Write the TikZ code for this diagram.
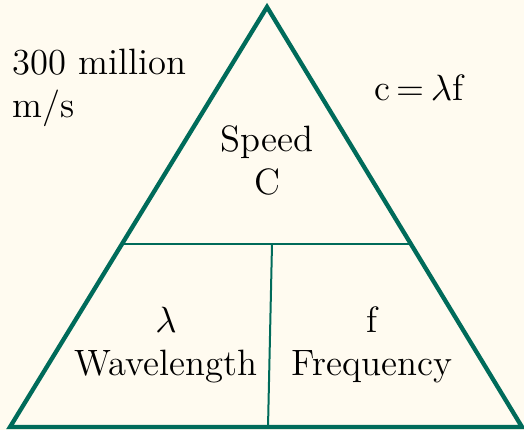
\documentclass[tikz,border=0pt]{standalone}
\usepackage{tikz}
\usetikzlibrary{positioning, calc}
\definecolor{tealline}{RGB}{0,107,90}
\definecolor{cream}{RGB}{255,251,240}
\tikzset{
	outer/.style={draw=tealline, line width=1.3pt, line join=miter},
	inner/.style={draw=tealline, line width=0.6pt},
	label/.style={align=center, inner sep=0pt, font=\fontsize{11}{12.9}\selectfont},
	note/.style={label, align=left}
}

\begin{document}
\begin{tikzpicture}[x=0.3pt,y=-0.3pt]
			% Background
			\fill[cream] (0,0) rectangle (524,430);
			\useasboundingbox (0,0) rectangle (524,430);
			
			% Corners
			\coordinate (apex) at (267,7);
			\coordinate (bl) at (10,427);
			\coordinate (br) at (522,427);
			\coordinate (ml) at (123,244);
			\coordinate (mr) at (412,244);
			\coordinate (dt) at (272,244);
			\coordinate (db) at (268,427);
			
			% Triangle
			\draw[outer] (apex) -- (br) -- (bl) -- cycle;
			\draw[inner] (ml) -- (mr);
			\draw[inner] (dt) -- (db);
			
			% Labels
			\node[label] (speed) at (267,160) {Speed\\ C};
			\node[label] (wave) at (166,345) {$\lambda$\\ Wavelength};
			\node[label] (freq) at (372,345) {f\\ Frequency};
			\node[note, anchor=west] (fact) at (12,88) {300 million\\ m/s};
			\node[label] (eqn) at (419,88) {c\,=\,$\lambda$f};
\end{tikzpicture}
\end{document}
